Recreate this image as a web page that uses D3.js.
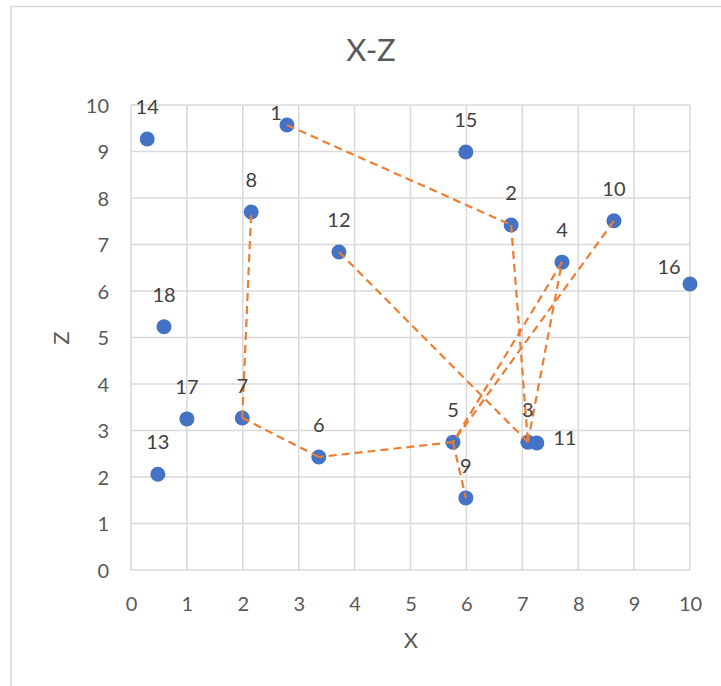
<!DOCTYPE html>
<html>
<head>
<meta charset="utf-8">
<script src="https://cdn.jsdelivr.net/npm/d3@7"></script>
<style>
  html, body { margin: 0; padding: 0; background: #fff; }
  text { font-family: Lato, "Open Sans", sans-serif; }
</style>
</head>
<body>
<svg id="chart" width="721" height="686"></svg>
<script>
// Point ids with their X and Z coordinates
const pointIds = [1, 2, 3, 4, 5, 6, 7, 8, 9, 10, 11, 12, 13, 14, 15, 16, 17, 18];
const xValues = [2.79, 6.80, 7.10, 7.71, 5.76, 3.36, 1.99, 2.15, 5.99, 8.64, 7.26, 3.72, 0.48, 0.29, 5.99, 10.0, 1.00, 0.59];
const zValues = [9.57, 7.42, 2.75, 6.62, 2.75, 2.43, 3.27, 7.70, 1.55, 7.51, 2.73, 6.84, 2.06, 9.27, 8.99, 6.15, 3.25, 5.23];

// Connections between points (dashed links)
const linkFrom = [1, 2, 3, 4, 5, 6, 7, 5, 10, 12];
const linkTo   = [2, 3, 4, 5, 6, 7, 8, 9, 5, 3];

// Axis ticks
const xTicks = [0, 1, 2, 3, 4, 5, 6, 7, 8, 9, 10];
const zTicks = [0, 1, 2, 3, 4, 5, 6, 7, 8, 9, 10];

const svg = d3.select("#chart");

// Chart-area frame
svg.append("path")
  .attr("d", "M11,686 V6.5 H721")
  .attr("fill", "none")
  .attr("stroke", "#d9d9d9")
  .attr("stroke-width", 1.5);

const x = d3.scaleLinear().domain([0, 10]).range([131, 690]);
const y = d3.scaleLinear().domain([0, 10]).range([570, 105]);

// Gridlines
const grid = svg.append("g");
grid.selectAll("line.v").data(xTicks).join("line")
  .attr("x1", d => x(d)).attr("x2", d => x(d))
  .attr("y1", y(0)).attr("y2", y(10))
  .attr("stroke", "#d9d9d9").attr("stroke-width", 1.5);
grid.selectAll("line.h").data(zTicks).join("line")
  .attr("y1", d => y(d)).attr("y2", d => y(d))
  .attr("x1", x(0)).attr("x2", x(10))
  .attr("stroke", "#d9d9d9").attr("stroke-width", 1.5);

// Axes (tick labels only, lines come from the grid)
const xAxis = svg.append("g")
  .attr("transform", `translate(0,${y(0)})`)
  .call(d3.axisBottom(x).tickValues(xTicks).tickSize(0).tickPadding(25).tickFormat(d3.format("d")));
const yAxis = svg.append("g")
  .attr("transform", `translate(${x(0)},0)`)
  .call(d3.axisLeft(y).tickValues(zTicks).tickSize(0).tickPadding(22).tickFormat(d3.format("d")));
[xAxis, yAxis].forEach(a => {
  a.select(".domain").remove();
  a.selectAll("text")
    .attr("fill", "#595959")
    .style("font-size", "20px")
    .style("font-family", "Lato, sans-serif");
});
xAxis.selectAll("text").attr("dy", "0.35em").attr("y", 34);
yAxis.selectAll("text").attr("dy", "0.35em");

// Title and axis titles
svg.append("text")
  .attr("x", 371).attr("y", 50).attr("dy", "0.35em")
  .attr("text-anchor", "middle")
  .attr("fill", "#595959")
  .style("font-size", "31px")
  .text("X-Z");
svg.append("text")
  .attr("x", 411).attr("y", 640).attr("dy", "0.35em")
  .attr("text-anchor", "middle")
  .attr("fill", "#595959")
  .style("font-size", "22px")
  .text("X");
svg.append("text")
  .attr("transform", "translate(61,338) rotate(-90)")
  .attr("dy", "0.35em")
  .attr("text-anchor", "middle")
  .attr("fill", "#595959")
  .style("font-size", "22px")
  .text("Z");

const points = pointIds.map((id, i) => ({ id, x: xValues[i], z: zValues[i] }));
const byId = new Map(points.map(p => [p.id, p]));

// Markers
svg.append("g").selectAll("circle").data(points).join("circle")
  .attr("cx", d => x(d.x))
  .attr("cy", d => y(d.z))
  .attr("r", 7.5)
  .attr("fill", "#4472c4");

// Dashed links drawn over the markers
const links = linkFrom.map((a, i) => [byId.get(a), byId.get(linkTo[i])]);
svg.append("g").selectAll("line").data(links).join("line")
  .attr("x1", d => x(d[0].x)).attr("y1", d => y(d[0].z))
  .attr("x2", d => x(d[1].x)).attr("y2", d => y(d[1].z))
  .attr("stroke", "#ed7d31")
  .attr("stroke-width", 2.2)
  .attr("stroke-dasharray", "8,5");

// Point labels: above the marker unless placed otherwise
const labelShift = { 1: [-11, -12], 11: [28, -5], 16: [-21, -17] };
svg.append("g").selectAll("text").data(points).join("text")
  .attr("x", d => x(d.x) + (labelShift[d.id] ? labelShift[d.id][0] : 0))
  .attr("y", d => y(d.z) + (labelShift[d.id] ? labelShift[d.id][1] : -32))
  .attr("dy", "0.35em")
  .attr("text-anchor", "middle")
  .attr("fill", "#404040")
  .style("font-size", "20px")
  .text(d => d.id);
</script>
</body>
</html>
